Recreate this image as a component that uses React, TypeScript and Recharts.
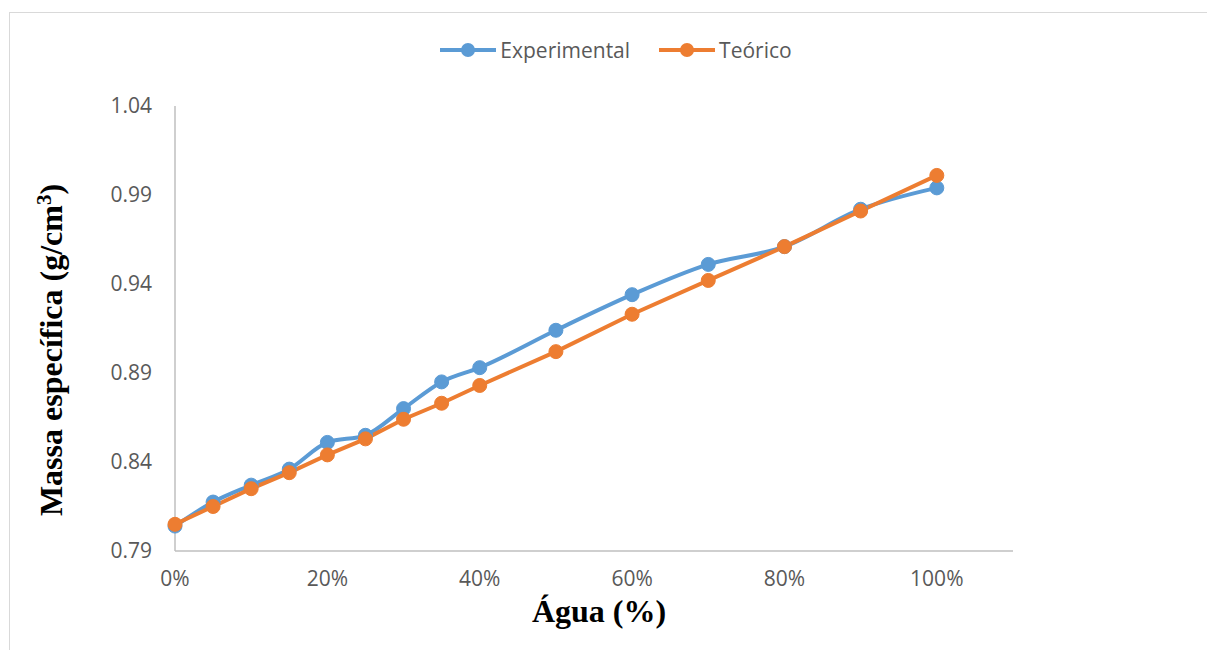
import React from 'react';
import { LineChart, Line, XAxis, YAxis, Legend } from 'recharts';

// Água (fração), massa específica experimental e teórica (g/cm³)
const agua = [0, 0.05, 0.1, 0.15, 0.2, 0.25, 0.3, 0.35, 0.4, 0.5, 0.6, 0.7, 0.8, 0.9, 1.0];
const experimental = [0.804, 0.8175, 0.827, 0.836, 0.851, 0.855, 0.87, 0.885, 0.893, 0.914, 0.934, 0.951, 0.961, 0.982, 0.994];
const teorico = [0.805, 0.815, 0.825, 0.834, 0.844, 0.853, 0.864, 0.873, 0.883, 0.902, 0.923, 0.942, 0.961, 0.981, 1.001];

const xTicks = [0, 0.2, 0.4, 0.6, 0.8, 1.0];
const yTicks = [0.79, 0.84, 0.89, 0.94, 0.99, 1.04];

const series = [
  { key: 'Experimental', color: '#5B9BD5', type: 'monotone' as const },
  { key: 'Teórico', color: '#ED7D31', type: 'linear' as const },
];

const data = agua.map((a, i) => ({
  agua: a,
  Experimental: experimental[i],
  Teórico: teorico[i],
}));

const tickStyle = { fontFamily: 'Open Sans', fontSize: 21, fill: '#595959' };
const axisColor = '#BFBFBF';

function renderLegend() {
  return (
    <div style={{ display: 'flex', justifyContent: 'center', alignItems: 'center', gap: 28 }}>
      {series.map((s) => (
        <div key={s.key} style={{ display: 'flex', alignItems: 'center' }}>
          <svg width={58} height={16}>
            <line x1={1} y1={8} x2={57} y2={8} stroke={s.color} strokeWidth={4} />
            <circle cx={29} cy={8} r={7} fill={s.color} />
          </svg>
          <span style={{ ...tickStyle, color: '#595959', marginLeft: 3, lineHeight: '24px' }}>{s.key}</span>
        </div>
      ))}
    </div>
  );
}

const titleFont = { fontFamily: 'Liberation Serif, Times New Roman, serif', fontWeight: 'bold' as const, fontSize: 32, fill: '#000' };

export default function App() {
  return (
    <div style={{ position: 'absolute', left: 0, top: 0, width: 1207, height: 650, background: '#fff', overflow: 'hidden' }}>
      <div style={{ position: 'absolute', left: 9, top: 12, width: 1207, height: 650, border: '1px solid #D9D9D9' }} />
      <LineChart
        width={1207}
        height={650}
        data={data}
        margin={{ top: 106, right: 194, left: 15, bottom: 19 }}
      >
        <Legend
          verticalAlign="middle"
          align="center"
          content={renderLegend}
          wrapperStyle={{ top: 38, left: 12, width: 1207 }}
        />
        <XAxis
          dataKey="agua"
          type="number"
          domain={[0, 1.1]}
          ticks={xTicks}
          tickFormatter={(v: number) => `${Math.round(v * 100)}%`}
          tickLine={false}
          axisLine={{ stroke: axisColor, strokeWidth: 1.5 }}
          tick={tickStyle}
          tickMargin={14}
          height={80}
          label={{
            content: () => (
              <text x={599} y={622} textAnchor="middle" style={titleFont}>
                Água (%)
              </text>
            ),
          }}
        />
        <YAxis
          type="number"
          domain={[0.79, 1.04]}
          ticks={yTicks}
          tickFormatter={(v: number) => v.toFixed(2)}
          tickLine={false}
          axisLine={{ stroke: axisColor, strokeWidth: 1.5 }}
          tick={tickStyle}
          tickMargin={17}
          width={160}
          label={{
            content: () => (
              <text
                x={62}
                y={350}
                textAnchor="middle"
                transform="rotate(-90, 62, 350)"
                style={titleFont}
              >
                Massa específica (g/cm
                <tspan dy={-11} fontSize={21}>3</tspan>
                <tspan dy={11}>)</tspan>
              </text>
            ),
          }}
        />
        {series.map((s) => (
          <Line
            key={s.key}
            type={s.type}
            dataKey={s.key}
            stroke={s.color}
            strokeWidth={4}
            dot={{ r: 7, fill: s.color, stroke: s.color, strokeWidth: 1 }}
            activeDot={false}
            isAnimationActive={false}
          />
        ))}
      </LineChart>
    </div>
  );
}
